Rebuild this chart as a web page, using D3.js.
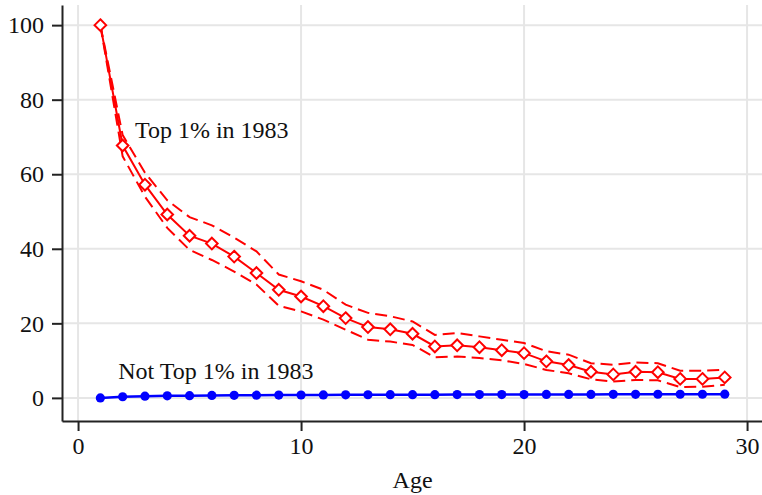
<!DOCTYPE html>
<html><head><meta charset="utf-8">
<script src="https://cdn.jsdelivr.net/npm/d3@7"></script>
<style>html,body{margin:0;padding:0;background:#fff;}svg{display:block;}</style>
</head><body>
<svg id="chart" width="762" height="495"></svg>
<script>
const ages = d3.range(1, 30);
const top1 = [100, 67.7, 57.2, 49.2, 43.5, 41.4, 37.9, 33.5, 29.0, 27.2, 24.6, 21.4, 19.0, 18.4, 17.2, 13.8, 14.1, 13.6, 12.8, 12.0, 9.8, 8.8, 7.0, 6.3, 7.0, 6.9, 5.1, 5.1, 5.5];
const top1Upper = [100, 70.5, 60.4, 53.0, 48.5, 46.3, 43.0, 39.3, 33.1, 31.3, 29.0, 25.0, 22.8, 21.9, 20.5, 16.9, 17.4, 16.5, 15.6, 14.7, 12.5, 11.6, 9.3, 8.9, 9.5, 9.3, 7.3, 7.3, 7.5];
const top1Lower = [100, 64.8, 54.0, 45.6, 39.7, 37.0, 33.9, 30.4, 24.7, 23.2, 21.0, 18.3, 15.6, 15.1, 14.2, 10.9, 11.1, 10.7, 10.1, 9.1, 7.5, 6.6, 5.0, 4.4, 4.8, 4.7, 2.9, 3.0, 3.5];
const notTop1 = [0, 0.3, 0.45, 0.55, 0.6, 0.65, 0.7, 0.72, 0.75, 0.78, 0.8, 0.82, 0.84, 0.85, 0.86, 0.87, 0.88, 0.89, 0.9, 0.9, 0.92, 0.93, 0.94, 0.95, 0.96, 0.97, 0.97, 0.98, 0.99];
const xTicks = [0, 10, 20, 30];
const yTicks = [0, 20, 40, 60, 80, 100];
const labels = [
  {text: "Top 1% in 1983", age: 2.55, value: 69.7},
  {text: "Not Top 1% in 1983", age: 1.8, value: 5.1}
];
const xTitle = "Age";

const svg = d3.select("#chart");
const font = "'Liberation Serif', 'Times New Roman', serif";
const x = d3.scaleLinear().domain([-0.72, 30.67]).range([62, 762]);
const y = d3.scaleLinear().domain([-6.2, 105.4]).range([421, 5]);

// grid
const grid = svg.append("g");
grid.selectAll("line.v").data(xTicks).join("line")
  .attr("x1", d => x(d)).attr("x2", d => x(d)).attr("y1", y(105.4)).attr("y2", y(-6.2))
  .attr("stroke", "#e6e6e6").attr("stroke-width", 2);
grid.selectAll("line.h").data(yTicks).join("line")
  .attr("y1", d => y(d)).attr("y2", d => y(d)).attr("x1", x(-0.72)).attr("x2", x(30.67))
  .attr("stroke", "#e6e6e6").attr("stroke-width", 2);

// axes
const xAxis = svg.append("g").attr("transform", `translate(0,${y(-6.2)})`)
  .call(d3.axisBottom(x).tickValues(xTicks).tickSize(10).tickPadding(6).tickSizeOuter(0));
const yAxis = svg.append("g").attr("transform", `translate(${x(-0.72)},0)`)
  .call(d3.axisLeft(y).tickValues(yTicks).tickSize(10).tickPadding(8).tickSizeOuter(0));
[xAxis, yAxis].forEach(a => {
  a.attr("font-family", font).attr("font-size", 24);
  a.select(".domain").attr("stroke", "#222").attr("stroke-width", 2);
  a.selectAll(".tick line").attr("stroke", "#222").attr("stroke-width", 2);
  a.selectAll(".tick text").attr("fill", "#111");
});

svg.append("text").attr("x", (x(0) + x(30)) / 2).attr("y", 488)
  .attr("text-anchor", "middle").attr("font-family", font).attr("font-size", 24).attr("fill", "#111")
  .text(xTitle);

// lines
const line = arr => d3.line().x((d, i) => x(ages[i])).y(d => y(d))(arr);
svg.append("path").attr("d", line(top1Upper)).attr("fill", "none").attr("stroke", "#ff0000")
  .attr("stroke-width", 2).attr("stroke-dasharray", "12,6");
svg.append("path").attr("d", line(top1Lower)).attr("fill", "none").attr("stroke", "#ff0000")
  .attr("stroke-width", 2).attr("stroke-dasharray", "12,6");
svg.append("path").attr("d", line(top1)).attr("fill", "none").attr("stroke", "#ff0000").attr("stroke-width", 2);

const h = 5.8;
svg.append("g").selectAll("path").data(top1).join("path")
  .attr("transform", (d, i) => `translate(${x(ages[i])},${y(d)})`)
  .attr("d", `M0,${-h}L${h},0L0,${h}L${-h},0Z`)
  .attr("fill", "#fff").attr("stroke", "#ff0000").attr("stroke-width", 2);

svg.append("path").attr("d", line(notTop1)).attr("fill", "none").attr("stroke", "#0000ff").attr("stroke-width", 2.5);
svg.append("g").selectAll("circle").data(notTop1).join("circle")
  .attr("cx", (d, i) => x(ages[i])).attr("cy", d => y(d)).attr("r", 4.6).attr("fill", "#0000ff");

svg.append("g").selectAll("text").data(labels).join("text")
  .attr("x", d => x(d.age)).attr("y", d => y(d.value))
  .attr("font-family", font).attr("font-size", 24).attr("fill", "#111")
  .text(d => d.text);
</script>
</body></html>
